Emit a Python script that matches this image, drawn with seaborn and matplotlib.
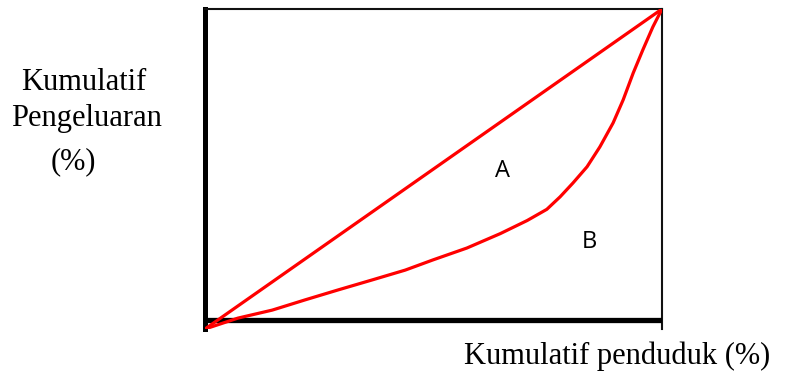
import numpy as np
import pandas as pd
import matplotlib
matplotlib.use("Agg")
import matplotlib.pyplot as plt
import seaborn as sns

# cumulative population (%) and cumulative expenditure (%)
penduduk = [0, 7.2, 14.7, 21.9, 29.1, 36.5, 43.8, 49.9, 57.3, 64.6, 70.5, 74.8, 77.7,
            80.5, 83.6, 86.4, 89.3, 91.5, 93.7, 95.8, 98.0, 100]
pengeluaran = [0, 3.4, 5.9, 9.1, 12.2, 15.3, 18.4, 21.6, 25.3, 29.8, 33.9, 37.4, 41.3,
               45.6, 50.7, 56.9, 64.4, 71.6, 80.0, 87.2, 94.4, 100]
garis_x = [0, 100]
garis_y = [0, 100]

sns.set_style("white")
plt.rcParams['font.family'] = ['DejaVu Sans']
plt.rcParams['text.color'] = 'black'

fig = plt.figure(figsize=(7.85, 3.72), dpi=100)
ax = fig.add_axes([205 / 785, 43 / 372, 457 / 785, 320 / 372])

RED = "#ff0000"
sns.lineplot(x=garis_x, y=garis_y, ax=ax, color=RED, linewidth=2.3, sort=False, zorder=4)
sns.lineplot(x=penduduk, y=pengeluaran, ax=ax, color=RED, linewidth=2.3, sort=False, zorder=4)
for ln in ax.lines:
    ln.set_solid_joinstyle("round")

ax.set_xlim(0, 100)
ax.set_ylim(0, 100)
ax.set_xticks([])
ax.set_yticks([])
ax.set_xlabel("")
ax.set_ylabel("")

# frame: thick left, thin top/right, thick baseline slightly above origin
ax.spines['left'].set_linewidth(3.6)
ax.spines['left'].set_color("black")
ax.spines['top'].set_linewidth(1.5)
ax.spines['top'].set_color("#111111")
ax.spines['right'].set_linewidth(1.5)
ax.spines['right'].set_color("#111111")
ax.spines['bottom'].set_visible(False)
ax.axhline(2.8, color="black", linewidth=3.8, zorder=3)

ax.text(65.0, 49.4, "A", fontsize=17, family="Open Sans", color="black", ha="center", va="center")
ax.text(84.2, 27.2, "B", fontsize=17, family="Open Sans", color="black", ha="center", va="center")

serif = "Liberation Serif"
fig.text(84 / 785, 1 - 83 / 372, "Kumulatif", fontsize=22, family=serif, ha="center", va="center")
fig.text(87 / 785, 1 - 119 / 372, "Pengeluaran", fontsize=22, family=serif, ha="center", va="center")
fig.text(73 / 785, 1 - 162 / 372, "(%)", fontsize=22, family=serif, ha="center", va="center")
fig.text(770 / 785, 1 - 356 / 372, "Kumulatif penduduk (%)", fontsize=22, family=serif, ha="right", va="center")

fig.savefig("out.png", dpi=100)
